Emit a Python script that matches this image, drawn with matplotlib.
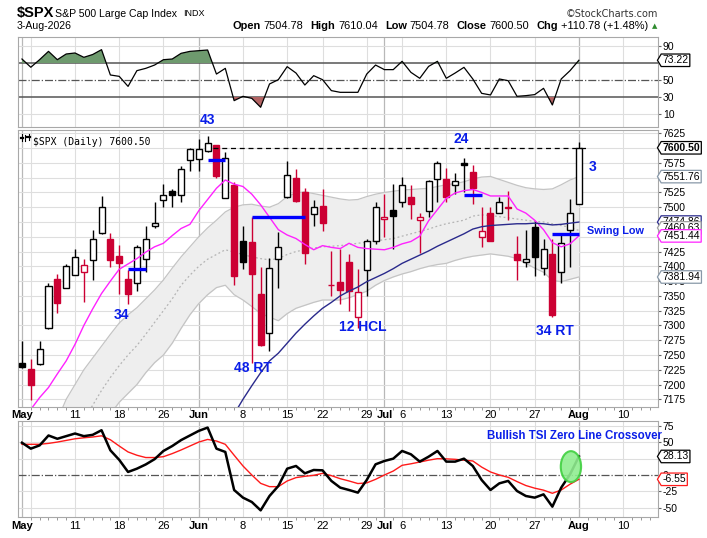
import numpy as np
import matplotlib.pyplot as plt
from matplotlib.path import Path
from matplotlib.patches import Ellipse

plt.rcParams['font.family'] = ['Liberation Sans', 'DejaVu Sans']

W, H = 707, 538

# x = trading day index: 0 = 1-May-2026 ... 63 = 3-Aug-2026
tick_pos = [0, 6, 11, 16, 20, 25, 30, 34, 39, 41, 43, 48, 53, 58, 63, 68]
tick_lab = ['May', '11', '18', '26', 'Jun', '8', '15', '22', '29', 'Jul', '6', '13', '20', '27', 'Aug', '10']
month_pos = [0, 20, 41, 63]
monday_pos = [1, 6, 11, 16, 20, 25, 30, 34, 39, 43, 48, 53, 58, 63, 68]

opens = [7236, 7227, 7234, 7295, 7378, 7364, 7386, 7391, 7411, 7456,
         7447, 7417, 7378, 7371, 7412, 7469, 7512, 7527, 7521, 7580,
         7581, 7595, 7605, 7516, 7538, 7443, 7441, 7353, 7288, 7412,
         7517, 7549, 7526, 7488, 7502, 7369, 7373, 7408, 7314, 7393,
         7442, 7480, 7496, 7508, 7517, 7478, 7494, 7547, 7547, 7538,
         7574, 7559, 7449, 7490, 7491, 7500, 7421, 7408, 7466, 7397,
         7421, 7391, 7462, 7504.78]
highs = [7274, 7244, 7274, 7371, 7387, 7404, 7430, 7412, 7461, 7519,
         7456, 7436, 7393, 7436, 7468, 7508, 7539, 7530, 7569, 7600,
         7616, 7621, 7606, 7594, 7542, 7469, 7484, 7399, 7414, 7458,
         7578, 7564, 7532, 7512, 7531, 7426, 7430, 7420, 7395, 7446,
         7509, 7522, 7540, 7551, 7537, 7490, 7546, 7579, 7566, 7558,
         7583, 7571, 7500, 7500, 7517, 7527, 7451, 7462, 7477, 7446,
         7447, 7456, 7514, 7610.04]
lows = [7228, 7173, 7233, 7294, 7321, 7363, 7386, 7340, 7377, 7455,
        7398, 7354, 7336, 7359, 7391, 7464, 7501, 7500, 7508, 7562,
        7562, 7594, 7550, 7516, 7368, 7395, 7237, 7265, 7257, 7364,
        7516, 7508, 7404, 7468, 7460, 7349, 7337, 7325, 7295, 7350,
        7438, 7450, 7429, 7501, 7480, 7423, 7484, 7508, 7508, 7522,
        7526, 7505, 7432, 7443, 7490, 7478, 7377, 7398, 7384, 7385,
        7315, 7372, 7399, 7504.78]
closes = [7230, 7199, 7260, 7367, 7338, 7400, 7415, 7403, 7446, 7501,
          7411, 7405, 7354, 7433, 7447, 7474, 7520, 7521, 7564, 7598,
          7599, 7608, 7553, 7583, 7384, 7407, 7387, 7267, 7397, 7433,
          7554, 7510, 7422, 7501, 7474, 7368, 7360, 7359, 7356, 7442,
          7500, 7484, 7485, 7537, 7505, 7484, 7544, 7574, 7517, 7544,
          7572, 7533, 7459, 7443, 7509, 7499, 7410, 7413, 7415, 7430,
          7317, 7439, 7489.72, 7600.50]
prev_close = 7220

ema_fast = [7140, 7158, 7178, 7195, 7218, 7240, 7268, 7300, 7328, 7354,
            7375, 7395, 7404, 7413, 7424, 7433, 7439, 7452, 7464, 7471,
            7494, 7513, 7532, 7546, 7539, 7535, 7522, 7504, 7483, 7462,
            7453, 7447, 7437, 7428, 7435, 7432, 7430, 7439, 7432, 7430,
            7429, 7428, 7432, 7438, 7442, 7451, 7477, 7496, 7515, 7524,
            7528, 7530, 7525, 7519, 7519, 7519, 7497, 7490, 7478, 7462,
            7440, 7433, 7438, 7451.44]
# slow average only enters the chart from 8-Jun (index 24)
sma_slow = [7150, 7175, 7198, 7220, 7240, 7253, 7270, 7287, 7302, 7316,
            7329, 7339, 7350, 7358, 7365, 7374, 7381, 7388, 7396, 7405,
            7412, 7419, 7426, 7434, 7441, 7448, 7455, 7463, 7467, 7469,
            7470, 7471, 7472, 7472, 7473, 7472, 7470, 7471, 7473, 7474.86]
bb_upper = [7040, 7065, 7090, 7115, 7140, 7175, 7200, 7225, 7245, 7265,
            7285, 7304, 7318, 7330, 7345, 7360, 7377, 7397, 7416, 7433,
            7450, 7465, 7478, 7492, 7500, 7504, 7505, 7502, 7500, 7506,
            7518, 7524, 7526, 7523, 7520, 7517, 7514, 7512, 7513, 7518,
            7522, 7525, 7527, 7529, 7530, 7531, 7532, 7535, 7538, 7540,
            7543, 7548, 7551, 7552, 7547, 7542, 7537, 7533, 7531, 7530,
            7531, 7538, 7546, 7551.76]
bb_mid = [7000, 7020, 7040, 7060, 7080, 7100, 7120, 7140, 7165, 7190,
          7212, 7232, 7250, 7266, 7285, 7305, 7325, 7345, 7368, 7385,
          7400, 7412, 7420, 7428, 7424, 7420, 7416, 7413, 7411, 7413,
          7420, 7425, 7428, 7431, 7433, 7434, 7435, 7437, 7439, 7441,
          7443, 7445, 7447, 7451, 7455, 7459, 7463, 7468, 7472, 7475,
          7478, 7485, 7487, 7486, 7484, 7482, 7480, 7478, 7476, 7475,
          7472, 7469, 7466, 7460.63]
bb_lower = [6960, 6980, 7000, 7020, 7040, 7060, 7075, 7090, 7105, 7125,
            7150, 7170, 7185, 7200, 7220, 7237, 7250, 7270, 7295, 7318,
            7337, 7352, 7364, 7368, 7352, 7343, 7332, 7320, 7314, 7308,
            7320, 7329, 7334, 7339, 7343, 7343, 7343, 7347, 7352, 7358,
            7368, 7376, 7382, 7387, 7391, 7396, 7400, 7403, 7405, 7410,
            7414, 7417, 7419, 7421, 7419, 7417, 7413, 7405, 7397, 7390,
            7376, 7374, 7378, 7381.94]

rsi = [74.7, 65, 74, 83.7, 73.9, 80.6, 81.8, 76.7, 80, 85.7,
       55.9, 54.3, 42.5, 61, 63.7, 67.6, 73.9, 74.7, 81.4, 83.7,
       84.5, 85.3, 57, 63.7, 25.7, 30.8, 28.4, 17.9, 45.3, 50.4,
       65.7, 58.2, 44.1, 55.1, 50.4, 37.5, 35.5, 35.5, 35.5, 57,
       67.6, 62.2, 62.2, 72, 59, 52, 66, 72, 52, 58.2,
       64.9, 51.2, 34.3, 32.4, 51.2, 49.2, 30.8, 31.6, 32.8, 40.2,
       20.6, 51.2, 61, 73.22]
tsi = [49, 40, 45, 60, 55, 59, 63, 59, 61, 68,
       37.5, 23, 4.6, 9.6, 16, 24, 36.5, 44, 53, 60,
       67, 72, 40, 35, -22.8, -34.4, -41, -53.7, -31.9, -16.7,
       9.6, 13.7, 2.5, 7.6, 7.1, -9, -19.2, -22.8, -26.8, -7.6,
       16.2, 21.3, 24.8, 36.5, 31.4, 20.3, 27.8, 36.5, 20.3, 20.3,
       24.8, 13.7, -7.6, -22.8, -12.7, -9, -24.3, -31.9, -34.4, -29.4,
       -48.1, -19.2, 1, 28.13]
tsi_signal = [46.6, 46.6, 46.6, 48, 50, 52.5, 55, 56.5, 57.7, 59.5,
              53.5, 44, 35, 30, 26.5, 26.5, 27.8, 32.5, 38, 44,
              50, 54, 51.6, 46.6, 30, 13.7, 0, -12.7, -17.7, -17.7,
              -9.1, -4, -2, -0.5, 2.5, -1, -5.6, -9.1, -13, -12,
              -6.6, 0, 6, 14.7, 17, 19.7, 22.5, 24.8, 24.5, 23.8,
              22.5, 21.3, 12, 4.6, 0, -3.5, -10, -16, -20, -23,
              -27.8, -22.8, -14, -6.55]

price_ticks = list(range(7175, 7626, 25))
price_hidden = [7450, 7475, 7550, 7600]   # covered by the value tags
rsi_ticks = [10, 30, 50, 70, 90]
tsi_ticks = [-50, -25, 0, 25, 50, 75]

# (start day, end day, level)
swing_lines = [(12, 14, 7395), (21, 23, 7580), (26, 32, 7484), (50, 52, 7521), (60, 63, 7454)]
notes = [('43', 21.0, 7647), ('34', 11.2, 7318), ('48 RT', 26.1, 7228), ('12 HCL', 38.5, 7297),
         ('24', 49.7, 7616), ('3', 64.5, 7568), ('34 RT', 60.3, 7290)]

RED = '#cc0033'
BLUE = '#0a1ee8'

fig = plt.figure(figsize=(W / 100, H / 100), dpi=100)


def px_axes(left, top, right, bottom):
    return fig.add_axes([left / W, 1 - bottom / H, (right - left) / W, (bottom - top) / H])


ax_rsi = px_axes(18, 37, 658, 127)
ax = px_axes(18, 130, 658, 407)
ax_tsi = px_axes(18, 421, 658, 517)


def style(a, labels=True, pad=2.5):
    a.set_xlim(-0.45, 71.95)
    for s in a.spines.values():
        s.set_color('#a8a8a8')
    a.yaxis.tick_right()
    a.tick_params(axis='y', length=2, pad=1.5, labelsize=7.5, colors='#666666', labelcolor='black')
    for p in monday_pos:
        a.axvline(p, color='#dedede', lw=0.8, zorder=0)
    for p in month_pos:
        a.axvline(p, color='#b8b8b8', lw=0.9, zorder=0)
    if labels:
        a.set_xticks(tick_pos)
        a.set_xticklabels(tick_lab)
        a.set_xticks(range(0, 72), minor=True)
        a.tick_params(axis='x', which='major', length=0, pad=pad, labelsize=8)
        a.tick_params(axis='x', which='minor', length=2, color='#888888')
        for t in a.get_xticklabels():
            if t.get_text() in ('May', 'Jun', 'Jul', 'Aug'):
                t.set_fontweight('bold')
    else:
        a.set_xticks([])


def set_right_ticks(a, ticks, hidden):
    a.set_yticks(ticks)
    a.set_yticklabels(['' if t in hidden else str(t) for t in ticks])


def tag_shape(x0, y0, width, height, mutation_size):
    pad = 0.12 * mutation_size
    x0, y0, width, height = x0 - pad, y0 - pad, width + 2 * pad, height + 2 * pad
    tip = 0.3 * height
    v = [(x0 - tip, y0 + height / 2), (x0, y0), (x0 + width, y0), (x0 + width, y0 + height),
         (x0, y0 + height), (x0 - tip, y0 + height / 2)]
    return Path(v, [Path.MOVETO] + [Path.LINETO] * 4 + [Path.CLOSEPOLY])


def tag(a, val, text, ec, bold=False):
    a.annotate(text, xy=(1, val), xycoords=('axes fraction', 'data'), xytext=(3.2, 0),
               textcoords='offset points', ha='left', va='center', fontsize=7.5,
               fontweight='bold' if bold else 'normal', annotation_clip=False,
               bbox=dict(boxstyle=tag_shape, fc='white', ec=ec, lw=0.9), zorder=6)


# ---------------- RSI panel ----------------
style(ax_rsi, labels=False)
x = np.arange(len(rsi))
r = np.array(rsi)
ax_rsi.set_ylim(-5.3, 100.6)
set_right_ticks(ax_rsi, rsi_ticks, [70])
for lv in (10, 90):
    ax_rsi.axhline(lv, color='#dedede', lw=0.8, zorder=0)
ax_rsi.axhline(70, color='#555555', lw=1.1, zorder=1)
ax_rsi.axhline(30, color='#555555', lw=1.1, zorder=1)
ax_rsi.axhline(50, color='#555555', lw=0.9, ls='-.', zorder=1)
ax_rsi.fill_between(x, r, 70, where=r > 70, interpolate=True, color='#6e9a6e', lw=0, zorder=2)
ax_rsi.fill_between(x, r, 30, where=r < 30, interpolate=True, color='#b36464', lw=0, zorder=2)
ax_rsi.plot(x, r, color='black', lw=0.9, zorder=3)
tag(ax_rsi, rsi[-1], '%.2f' % rsi[-1], 'black')

# ---------------- price panel ----------------
style(ax, pad=2.5)
ax.set_ylim(7162, 7630.6)
set_right_ticks(ax, price_ticks, price_hidden)
for lv in price_ticks:
    ax.axhline(lv, color='#dedede', lw=0.8, zorder=0)

xd = np.arange(len(closes))
ax.fill_between(xd, bb_lower, bb_upper, color='#eeeeee', lw=0, zorder=1)
ax.plot(xd, bb_upper, color='#c4c4c4', lw=0.9, zorder=1.5)
ax.plot(xd, bb_lower, color='#c4c4c4', lw=0.9, zorder=1.5)
ax.plot(xd, bb_mid, color='#b4b4b4', lw=0.9, ls=(0, (1.5, 2)), zorder=1.5)

o = np.array(opens)
c = np.array(closes)
pc = np.concatenate([[prev_close], c[:-1]])
col = np.where(c >= pc, 'black', RED)
face = np.where(c < o, col, 'white')
ax.vlines(xd, lows, highs, colors=col, lw=1, zorder=2)
body_lo = np.minimum(o, c)
body_h = np.maximum(np.abs(c - o), 0.4)
ax.bar(xd, body_h, bottom=body_lo, width=0.68, color=face, edgecolor=col, lw=1, zorder=3)

ax.plot(xd, ema_fast, color='#ff22ff', lw=1, zorder=4)
ax.plot(np.arange(24, 64), sma_slow, color='#2a2a8c', lw=1, zorder=4)

ax.hlines(7600, 21.6, 64, colors='black', linestyles=(0, (4, 3)), lw=0.9, zorder=4)
for s0, s1, lv in swing_lines:
    ax.hlines(lv, s0, s1, colors='#0000ff', lw=2.4, zorder=5)

for txt, xi, yv in notes:
    ax.text(xi, yv, txt, color=BLUE, fontsize=10, fontweight='bold', ha='center', va='center',
            clip_on=False, zorder=7)
ax.text(67.1, 7459.7, 'Swing Low', color=BLUE, fontsize=7.8, fontweight='bold', ha='center',
        va='center', zorder=7)

ax.text(0.024, 0.974, '$SPX (Daily) 7600.50', transform=ax.transAxes, family='DejaVu Sans Mono',
        fontsize=7, ha='left', va='top', zorder=7)
ax.plot([0.006, 0.006], [0.962, 0.985], transform=ax.transAxes, color='black', lw=0.8)
ax.plot([0.011, 0.011], [0.960, 0.982], transform=ax.transAxes, color='black', lw=0.8)
ax.plot([0.0165, 0.0165], [0.963, 0.986], transform=ax.transAxes, color='black', lw=0.8)
ax.plot([0.004, 0.008], [0.972, 0.972], transform=ax.transAxes, color='black', lw=1.6)
ax.plot([0.014, 0.019], [0.975, 0.975], transform=ax.transAxes, color='black', lw=1.6)

tag(ax, 7551.76, '7551.76', '#8898a8')
tag(ax, 7381.94, '7381.94', '#8898a8')
tag(ax, 7474.86, '7474.86', '#2a2a8c')
tag(ax, 7465.0, '7460.63', '#a0a0a0')
tag(ax, 7451.44, '7451.44', '#ff22ff')
tag(ax, 7600.50, '7600.50', 'black', bold=True)

# ---------------- TSI panel ----------------
style(ax_tsi, pad=3)
ax_tsi.set_ylim(-63.8, 82)
set_right_ticks(ax_tsi, tsi_ticks, [25])
for lv in (-50, -25, 25, 50, 75):
    ax_tsi.axhline(lv, color='#dedede', lw=0.8, zorder=0)
ax_tsi.axhline(0, color='#555555', lw=0.9, ls='-.', zorder=1)
xt = np.arange(len(tsi))
ax_tsi.plot(xt, tsi_signal, color='#ff1a1a', lw=1, zorder=3)
ax_tsi.plot(xt, tsi, color='black', lw=1.8, zorder=4)
ax_tsi.add_patch(Ellipse((62.1, 12.7), 2.3, 47, fc='#90ee90', ec='#40d040', lw=1.5, alpha=0.9, zorder=5))
ax_tsi.text(72.4, 58.5, 'Bullish TSI Zero Line Crossover', color=BLUE, fontsize=8.3,
            fontweight='bold', ha='right', va='center', clip_on=False, zorder=7)
tag(ax_tsi, tsi[-1], '%.2f' % tsi[-1], 'black')
tag(ax_tsi, tsi_signal[-1], '%.2f' % tsi_signal[-1], '#ff1a1a')

# ---------------- header ----------------
fig.text(17 / W, 1 - 13.5 / H, '$SPX', fontsize=10.5, fontweight='bold', ha='left', va='center')
fig.text(55 / W, 1 - 14 / H, 'S&P 500 Large Cap Index', fontsize=7.6, ha='left', va='center')
fig.text(183 / W, 1 - 14 / H, 'INDX', fontsize=6.5, ha='left', va='center')
fig.text(17 / W, 1 - 26 / H, '3-Aug-2026', fontsize=7.6, ha='left', va='center')
fig.text(658 / W, 1 - 14 / H, '\u00a9StockCharts.com', fontsize=7, family='DejaVu Sans',
         color='#333333', ha='right', va='center')

parts = [('Open', True), ('7504.78', False), ('High', True), ('7610.04', False),
         ('Low', True), ('7504.78', False), ('Close', True), ('7600.50', False),
         ('Chg', True), ('+110.78 (+1.48%)', False)]
rend = fig.canvas.get_renderer()
widths = []
items = []
for s, b in parts:
    t = fig.text(0, 1 - 26 / H, s, fontsize=7.9, fontweight='bold' if b else 'normal',
                 ha='left', va='center')
    items.append(t)
    widths.append(t.get_window_extent(renderer=rend).width)
gaps = [3 if i % 2 == 0 else 7 for i in range(len(parts))]
total = sum(widths) + sum(gaps[:-1]) + 10
xpos = 658 - total
for t, w, g in zip(items, widths, gaps):
    t.set_x(xpos / W)
    xpos += w + g
fig.text(657 / W, 1 - 26 / H, '\u25b2', fontsize=5, color='#2e8b2e', ha='right', va='center',
         family='DejaVu Sans')

fig.savefig('out.png', dpi=100)
